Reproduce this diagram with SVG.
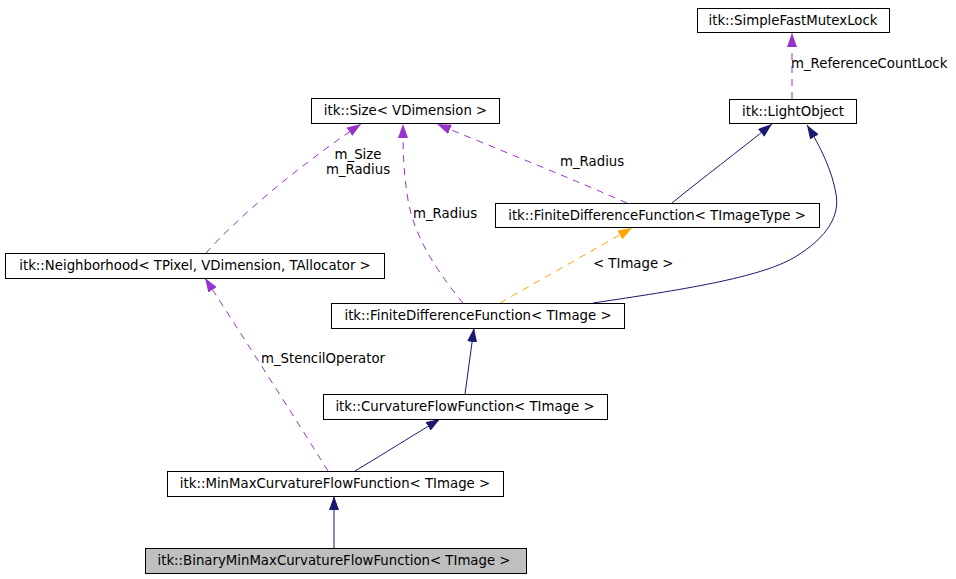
<svg xmlns="http://www.w3.org/2000/svg" width="956" height="579" viewBox="0 0 956 579">
<style>
.n rect{fill:#ffffff;stroke:#000000;stroke-width:1}
.n.g rect{fill:#bfbfbf}
text{font-family:"DejaVu Sans","Liberation Sans",sans-serif;font-size:13.3px;fill:#000000}
.n text{text-anchor:middle}
.e{fill:none;stroke-width:1}
.inh{stroke:#191970;marker-end:url(#an)}
.use{stroke:#9a32cd;stroke-dasharray:7,6;marker-end:url(#ap)}
.tpl{stroke:#ffa500;stroke-dasharray:7,6;marker-end:url(#ao)}
</style>
<defs>
<marker id="an" viewBox="0 0 14 10" refX="14" refY="5" markerWidth="14" markerHeight="10" markerUnits="userSpaceOnUse" orient="auto"><path d="M0,0 L14,5 L0,10 z" fill="#191970" stroke="none"/></marker>
<marker id="ap" viewBox="0 0 14 10" refX="14" refY="5" markerWidth="14" markerHeight="10" markerUnits="userSpaceOnUse" orient="auto"><path d="M0,0 L14,5 L0,10 z" fill="#9a32cd" stroke="none"/></marker>
<marker id="ao" viewBox="0 0 14 10" refX="14" refY="5" markerWidth="14" markerHeight="10" markerUnits="userSpaceOnUse" orient="auto"><path d="M0,0 L14,5 L0,10 z" fill="#ffa500" stroke="none"/></marker>
</defs>
<rect x="0" y="0" width="956" height="579" fill="#ffffff"/>
<g id="connectors">
<path class="e use" d="M792,99 L792,33"/>
<text x="791" y="68">m_ReferenceCountLock</text>
<path class="e inh" d="M672,203 C700,180 740,150 772,124"/>
<path class="e inh" d="M593,303 C680,290 760,278 795,257 C828,237 840,215 836,194 C832,170 820,146 807,125"/>
<path class="e use" d="M206,253 C240,215 300,165 361,124"/>
<text x="358" y="159" text-anchor="middle">m_Size</text>
<text x="358" y="174" text-anchor="middle">m_Radius</text>
<path class="e use" d="M463,303 C440,275 415,240 408,200 C403,170 403,145 403,124"/>
<text x="413" y="218">m_Radius</text>
<path class="e use" d="M627,203 C570,178 500,150 437,124"/>
<text x="560" y="166">m_Radius</text>
<path class="e tpl" d="M500,303 C540,280 590,252 632,228"/>
<text x="593" y="268">&lt; TImage &gt;</text>
<path class="e inh" d="M465,394 C468,372 471,350 474,328"/>
<path class="e inh" d="M355,471 C385,453 412,436 440,419"/>
<path class="e use" d="M328,471 C290,410 245,340 205,278"/>
<text x="261" y="363">m_StencilOperator</text>
<path class="e inh" d="M334,548 L334,496"/>
</g>
<g id="node-SimpleFastMutexLock" class="n"><rect x="697.5" y="8.5" width="192" height="24"/><text x="793" y="25">itk::SimpleFastMutexLock</text></g>
<g id="node-LightObject" class="n"><rect x="729.5" y="99.5" width="127" height="24"/><text x="793" y="116">itk::LightObject</text></g>
<g id="node-Size" class="n"><rect x="311.5" y="98.5" width="188" height="25"/><text x="405.5" y="115">itk::Size&lt; VDimension &gt;</text></g>
<g id="node-FDF-TImageType" class="n"><rect x="495.5" y="203.5" width="324" height="24"/><text x="657" y="220">itk::FiniteDifferenceFunction&lt; TImageType &gt;</text></g>
<g id="node-Neighborhood" class="n"><rect x="5.5" y="253.5" width="379" height="25"/><text x="195" y="270">itk::Neighborhood&lt; TPixel, VDimension, TAllocator &gt;</text></g>
<g id="node-FDF-TImage" class="n"><rect x="331.5" y="303.5" width="293" height="25"/><text x="478" y="320">itk::FiniteDifferenceFunction&lt; TImage &gt;</text></g>
<g id="node-CurvatureFlowFunction" class="n"><rect x="323.5" y="394.5" width="284" height="25"/><text x="465" y="411">itk::CurvatureFlowFunction&lt; TImage &gt;</text></g>
<g id="node-MinMaxCurvatureFlowFunction" class="n"><rect x="167.5" y="471.5" width="336" height="25"/><text x="335" y="488">itk::MinMaxCurvatureFlowFunction&lt; TImage &gt;</text></g>
<g id="node-BinaryMinMaxCurvatureFlowFunction" class="n g"><rect x="145.5" y="548.5" width="381" height="25"/><text x="334" y="565">itk::BinaryMinMaxCurvatureFlowFunction&lt; TImage &gt;</text></g>
</svg>
